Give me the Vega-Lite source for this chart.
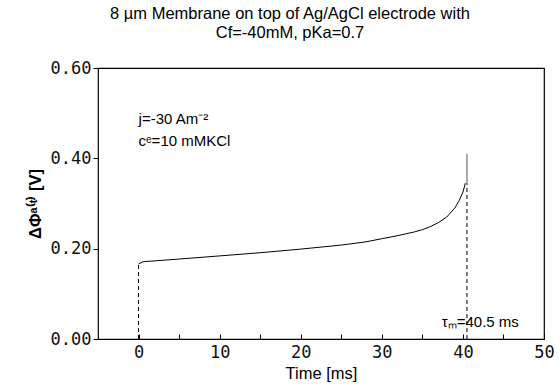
{
  "$schema": "https://vega.github.io/schema/vega-lite/v6.json",
  "width": 446,
  "height": 271,
  "autosize": "none",
  "padding": {"left": 98, "top": 68, "right": 15, "bottom": 48},
  "background": "white",
  "config": {
    "view": {"stroke": "black", "strokeWidth": 1.2},
    "font": "Liberation Sans"
  },
  "title": {
    "text": ["8 µm Membrane on top of Ag/AgCl electrode with", "Cf=-40mM, pKa=0.7"],
    "font": "Liberation Sans",
    "fontSize": 16.5,
    "fontWeight": "normal",
    "color": "black",
    "anchor": "middle",
    "dx": -31,
    "offset": 18,
    "lineHeight": 19
  },
  "datasets": {
    "curve": [
      {"t": 0, "v": 0.166, "o": 1},
      {"t": 0.5, "v": 0.171, "o": 2},
      {"t": 2, "v": 0.173, "o": 3},
      {"t": 5, "v": 0.177, "o": 4},
      {"t": 10, "v": 0.184, "o": 5},
      {"t": 15, "v": 0.191, "o": 6},
      {"t": 20, "v": 0.199, "o": 7},
      {"t": 25, "v": 0.208, "o": 8},
      {"t": 28, "v": 0.215, "o": 9},
      {"t": 30, "v": 0.222, "o": 10},
      {"t": 32, "v": 0.229, "o": 11},
      {"t": 34, "v": 0.237, "o": 12},
      {"t": 35, "v": 0.242, "o": 13},
      {"t": 36, "v": 0.249, "o": 14},
      {"t": 37, "v": 0.258, "o": 15},
      {"t": 38, "v": 0.270, "o": 16},
      {"t": 39, "v": 0.290, "o": 17},
      {"t": 39.5, "v": 0.305, "o": 18},
      {"t": 40, "v": 0.325, "o": 19},
      {"t": 40.3, "v": 0.345, "o": 20}
    ],
    "dashed": [
      {"t": 0, "v0": 0, "v1": 0.166},
      {"t": 40.5, "v0": 0, "v1": 0.345}
    ],
    "spike": [
      {"t": 40.5, "v0": 0.345, "v1": 0.41}
    ],
    "notes": [
      {"t": 0, "v": 0.476, "label": "j=-30 Am⁻²"},
      {"t": 0, "v": 0.427, "label": "cᵉ=10 mMKCl"},
      {"t": 37.4, "v": 0.027, "label": "τₘ=40.5 ms"}
    ]
  },
  "layer": [
    {
      "data": {"name": "curve"},
      "mark": {"type": "line", "color": "black", "strokeWidth": 1},
      "encoding": {
        "x": {
          "field": "t", "type": "quantitative",
          "scale": {"domain": [-5, 50], "nice": false, "zero": false},
          "axis": {
            "title": "Time  [ms]",
            "titleFont": "Liberation Sans", "titleFontSize": 16.5, "titleFontWeight": "normal", "titleColor": "black",
            "titlePadding": 5,
            "values": [0, 5, 10, 15, 20, 25, 30, 35, 40, 45, 50],
            "labelExpr": "datum.value % 10 === 0 ? datum.value : ''",
            "labelFont": "DejaVu Sans Mono", "labelFontSize": 17, "labelColor": "#111",
            "tickSize": -5, "tickColor": "black", "labelPadding": 10,
            "domain": false, "grid": false, "labelFlush": false
          }
        },
        "y": {
          "field": "v", "type": "quantitative",
          "scale": {"domain": [0, 0.6], "nice": false},
          "axis": {
            "title": "ΔΦᵃ⁽ᵗ⁾ [V]",
            "titleFont": "Liberation Sans", "titleFontSize": 16.5, "titleFontWeight": "bold", "titleColor": "black",
            "titlePadding": 7,
            "values": [0, 0.2, 0.4, 0.6],
            "format": ".2f",
            "labelFont": "DejaVu Sans Mono", "labelFontSize": 17, "labelColor": "#111",
            "tickSize": 5, "tickColor": "black", "labelPadding": 2,
            "domain": false, "grid": false, "labelFlush": false
          }
        },
        "order": {"field": "o", "type": "quantitative"}
      }
    },
    {
      "data": {"name": "dashed"},
      "mark": {"type": "rule", "color": "black", "strokeWidth": 1, "strokeDash": [4, 3]},
      "encoding": {
        "x": {"field": "t", "type": "quantitative"},
        "y": {"field": "v0", "type": "quantitative"},
        "y2": {"field": "v1"}
      }
    },
    {
      "data": {"name": "spike"},
      "mark": {"type": "rule", "color": "#555", "strokeWidth": 1},
      "encoding": {
        "x": {"field": "t", "type": "quantitative"},
        "y": {"field": "v0", "type": "quantitative"},
        "y2": {"field": "v1"}
      }
    },
    {
      "data": {"name": "notes"},
      "mark": {"type": "text", "align": "left", "baseline": "alphabetic", "font": "Liberation Sans", "fontSize": 15, "color": "black"},
      "encoding": {
        "x": {"field": "t", "type": "quantitative"},
        "y": {"field": "v", "type": "quantitative"},
        "text": {"field": "label"}
      }
    }
  ]
}
